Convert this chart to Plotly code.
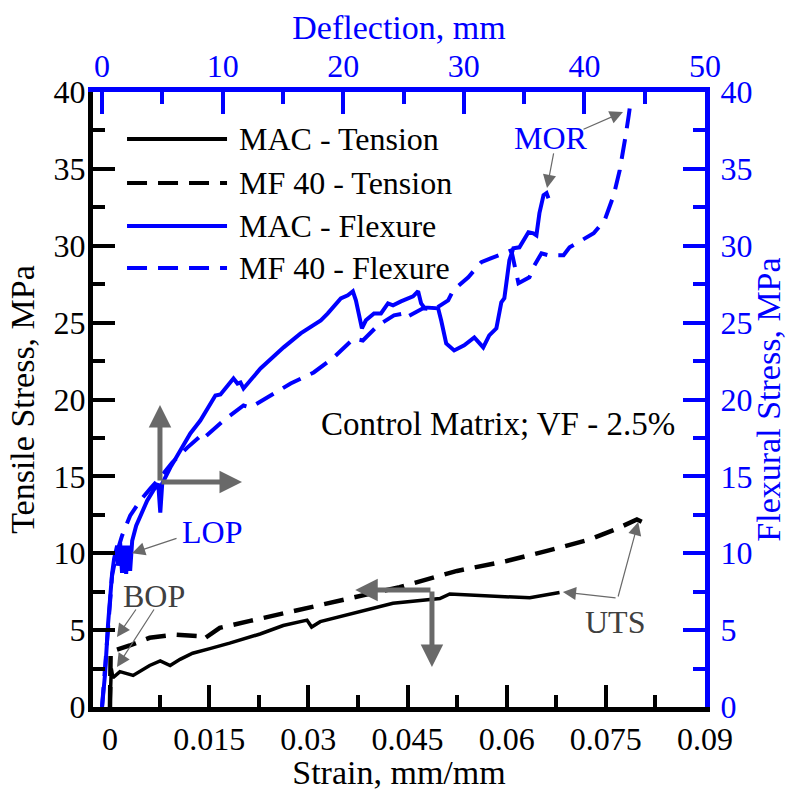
import plotly.graph_objects as go

# ---------------- data ----------------
mac_t_strain = [0, 0.0002, 0.00045, 0.0015, 0.0035, 0.006, 0.0076, 0.0091, 0.0106, 0.0125,
                0.0151, 0.0181, 0.0227, 0.0262, 0.0298, 0.0305, 0.0318, 0.0363, 0.0428,
                0.0499, 0.0514, 0.0635, 0.068]
mac_t_stress = [0, 2.5, 1.9, 2.3, 2.05, 2.7, 3.0, 2.7, 3.1, 3.5,
                3.8, 4.15, 4.75, 5.3, 5.65, 5.2, 5.55, 6.05, 6.75,
                7.05, 7.35, 7.1, 7.45]

mf_t_strain = [0, 0.0001, 0.003, 0.006, 0.0098, 0.0136, 0.0141, 0.0166, 0.0212, 0.0257,
               0.0302, 0.0363, 0.0438, 0.0525, 0.060, 0.0661, 0.0726, 0.0767, 0.0797, 0.0812]
mf_t_stress = [0, 3.6, 4.0, 4.5, 4.7, 4.6, 4.4, 5.15, 5.6, 6.05,
               6.45, 7.1, 7.8, 8.85, 9.5, 10.15, 10.9, 11.6, 12.2, 11.9]

mac_f_defl = [0, 0.25, 0.5, 0.67, 0.83, 1.0, 1.25, 1.33, 1.5, 1.66, 1.83, 2.0, 2.16, 2.33,
              2.5, 2.83, 3.16, 3.74, 4.24, 4.66, 4.83, 4.99, 5.66, 6.49, 7.32, 8.15, 9.4,
              9.82, 10.9, 11.23, 11.48, 11.73, 13.14, 15.06, 16.47, 18.14, 18.72, 19.8,
              20.38, 20.8, 21.05, 21.55, 21.88, 22.55, 23.13, 23.71, 24.13, 24.79, 25.79,
              26.21, 26.46, 26.71, 27.87, 28.12, 28.54, 29.2, 30.03, 30.87, 31.61, 32.11,
              32.7, 33.11, 33.36, 33.78, 34.11, 34.61, 35.36, 35.77, 36.02, 36.27, 36.61,
              36.86, 37.02]
mac_f_stress = [0, 2.15, 5.41, 7.56, 8.66, 9.64, 10.49, 9.19, 10.68, 8.73, 10.49, 8.66, 10.49,
                8.86, 10.81, 11.79, 12.44, 13.42, 14.07, 14.53, 12.64, 14.53, 15.57, 16.68,
                17.79, 18.63, 20.26, 20.33, 21.37, 21.04, 21.11, 20.72, 22.02, 23.39, 24.3,
                25.15, 25.6, 26.58, 26.78, 27.04, 26.45, 24.63, 25.15, 25.6, 25.6, 26.25,
                26.12, 26.38, 26.71, 27.04, 26.25, 25.99, 25.93, 25.15, 23.65, 23.19, 23.52,
                24.04, 23.39, 24.17, 24.63, 26.32, 26.58, 29.06, 29.84, 29.9, 30.88, 30.81,
                30.68, 32.12, 33.29, 33.42, 33.09]

mf_f_defl = [0, 0.5, 0.83, 1.16, 1.66, 2.33, 3.16, 4.0, 4.83, 5.82, 7.07, 8.4, 8.57, 10.07,
             11.73, 12.31, 13.73, 15.64, 17.55, 19.22, 20.88, 21.63, 22.88, 24.21, 25.04,
             25.21, 26.62, 27.54, 28.7, 29.12, 30.37, 31.45, 32.28, 33.94, 34.53, 35.44,
             35.86, 36.44, 37.02, 38.27, 38.77, 40.03, 40.77, 41.68, 42.43, 42.93, 43.26,
             43.43, 43.68, 43.76]
mf_f_stress = [0, 5.6, 8.53, 9.84, 11.14, 12.44, 13.42, 14.2, 14.92, 15.9, 16.87, 17.79,
               17.59, 18.63, 19.61, 19.48, 20.13, 21.04, 21.76, 22.74, 23.97, 23.84, 24.82,
               25.47, 25.6, 25.34, 25.93, 25.86, 26.45, 27.1, 27.95, 28.93, 29.19, 29.7,
               27.56, 27.95, 28.73, 29.51, 29.38, 29.38, 29.9, 30.49, 30.81, 31.66, 33.29,
               34.92, 36.22, 37.2, 38.5, 38.96]

strain_ticks = [0, 0.015, 0.03, 0.045, 0.06, 0.075, 0.09]
strain_labels = ["0", "0.015", "0.03", "0.045", "0.06", "0.075", "0.09"]
defl_ticks = [0, 10, 20, 30, 40, 50]
stress_ticks = [0, 5, 10, 15, 20, 25, 30, 35, 40]

series_names = ["MAC - Tension", "MF 40 - Tension", "MAC - Flexure", "MF 40 - Flexure"]

# ---------------- styling ----------------
FONT = "Liberation Serif"
BLUE = "rgb(0,0,255)"
BLACK = "rgb(0,0,0)"
GREY = "rgb(105,105,105)"
DARKGREY = "rgb(64,64,64)"
DASH = "20px,11px"
LW = 4
TICK_FS = 32
TITLE_FS = 34
TEXT_FS = 32

fig = go.Figure()
fig.add_trace(go.Scatter(x=mac_t_strain, y=mac_t_stress, mode="lines", name=series_names[0],
                         line=dict(color=BLACK, width=3.5), xaxis="x", yaxis="y", showlegend=False))
fig.add_trace(go.Scatter(x=mf_t_strain, y=mf_t_stress, mode="lines", name=series_names[1],
                         line=dict(color=BLACK, width=4.5, dash=DASH), xaxis="x", yaxis="y",
                         showlegend=False))
fig.add_trace(go.Scatter(x=mac_f_defl, y=mac_f_stress, mode="lines", name=series_names[2],
                         line=dict(color=BLUE, width=LW), xaxis="x2", yaxis="y2", showlegend=False))
fig.add_trace(go.Scatter(x=mf_f_defl, y=mf_f_stress, mode="lines", name=series_names[3],
                         line=dict(color=BLUE, width=LW, dash=DASH), xaxis="x2", yaxis="y2",
                         showlegend=False))

tick_common = dict(ticks="inside", ticklen=22, tickwidth=4, showgrid=False, zeroline=False,
                   showline=True, linewidth=5, automargin=False)

fig.update_layout(
    width=787, height=791,
    margin=dict(l=93, r=82, t=92, b=84, autoexpand=False),
    paper_bgcolor="white", plot_bgcolor="white",
    font=dict(family=FONT, size=TICK_FS, color=BLACK),
    xaxis=dict(range=[-0.00257, 0.09], tickmode="array", tickvals=strain_ticks,
               ticktext=strain_labels, linecolor=BLACK, tickcolor=BLACK,
               tickfont=dict(family=FONT, size=TICK_FS, color=BLACK),
               minor=dict(ticks="inside", ticklen=12, tickwidth=4, dtick=0.0075, tick0=0,
                          tickcolor=BLACK),
               title=dict(text="Strain, mm/mm", font=dict(family=FONT, size=TITLE_FS, color=BLACK),
                          standoff=2),
               anchor="y", side="bottom", **tick_common),
    xaxis2=dict(range=[-0.75, 50], tickmode="array", tickvals=defl_ticks,
                linecolor=BLUE, tickcolor=BLUE,
                tickfont=dict(family=FONT, size=TICK_FS, color=BLUE), ticklabelstandoff=-3,
                minor=dict(ticks="inside", ticklen=12, tickwidth=4, dtick=5, tick0=0,
                           tickcolor=BLUE),
                title=dict(text="Deflection, mm", font=dict(family=FONT, size=TITLE_FS, color=BLUE),
                           standoff=0),
                overlaying="x", side="top", anchor="y2", **tick_common),
    yaxis=dict(range=[0, 40], tickmode="array", tickvals=stress_ticks,
               linecolor=BLACK, tickcolor=BLACK,
               tickfont=dict(family=FONT, size=TICK_FS, color=BLACK), ticklabelstandoff=-4,
               minor=dict(ticks="inside", ticklen=12, tickwidth=4, dtick=2.5, tick0=0,
                          tickcolor=BLACK),
               title=dict(text="Tensile Stress, MPa",
                          font=dict(family=FONT, size=TITLE_FS, color=BLACK), standoff=10),
               anchor="x", side="left", **tick_common),
    yaxis2=dict(range=[0, 40], tickmode="array", tickvals=stress_ticks,
                linecolor=BLUE, tickcolor=BLUE,
                tickfont=dict(family=FONT, size=TICK_FS, color=BLUE), ticklabelstandoff=4,
                minor=dict(ticks="inside", ticklen=12, tickwidth=4, dtick=2.5, tick0=0,
                           tickcolor=BLUE),
                title=dict(text="Flexural Stress, MPa",
                           font=dict(family=FONT, size=TITLE_FS, color=BLUE), standoff=14),
                overlaying="y", side="right", anchor="x2", **tick_common),
)

# ---------------- custom legend (long line samples) ----------------
leg_rows = [0.9236, 0.852, 0.782, 0.714]
leg_styles = [(BLACK, None), (BLACK, "dash"), (BLUE, None), (BLUE, "dash")]
for name, yy, (col, dsh) in zip(series_names, leg_rows, leg_styles):
    fig.add_shape(type="line", xref="paper", yref="paper", x0=0.0556, x1=0.219, y0=yy, y1=yy,
                  line=dict(color=col, width=LW, dash=DASH if dsh else "solid"))
    fig.add_annotation(xref="paper", yref="paper", x=0.2353, y=yy, text=name, showarrow=False,
                       xanchor="left", yanchor="middle",
                       font=dict(family=FONT, size=TEXT_FS, color=BLACK))

# ---------------- text annotations ----------------
fig.add_annotation(xref="x", yref="y", x=0.0858, y=18.4, text="Control Matrix; VF - 2.5%",
                   showarrow=False, xanchor="right", yanchor="middle",
                   font=dict(family=FONT, size=33, color=BLACK))
fig.add_annotation(xref="x2", yref="y2", x=37.2, y=37.0, text="MOR", showarrow=False,
                   font=dict(family=FONT, size=TEXT_FS, color=BLUE))
fig.add_annotation(xref="x2", yref="y2", x=9.12, y=11.38, text="LOP", showarrow=False,
                   font=dict(family=FONT, size=TEXT_FS, color=BLUE))
fig.add_annotation(xref="x", yref="y", x=0.00666, y=7.22, text="BOP", showarrow=False,
                   font=dict(family=FONT, size=TEXT_FS, color=DARKGREY))
fig.add_annotation(xref="x", yref="y", x=0.0764, y=5.53, text="UTS", showarrow=False,
                   font=dict(family=FONT, size=TEXT_FS, color=DARKGREY))

# thin pointer arrows: (ref axes, tail, tip)
thin_arrows = [
    ("x2", "y2", (37.47, 36.1), (36.9, 33.76)),
    ("x2", "y2", (39.8, 37.53), (43.2, 38.7)),
    ("x2", "y2", (6.3, 11.0), (2.48, 10.0)),
    ("x", "y", (0.00408, 6.44), (0.00106, 4.55)),
    ("x", "y", (0.0068, 6.44), (0.00106, 2.6)),
    ("x", "y", (0.0767, 7.09), (0.0685, 7.48)),
    ("x", "y", (0.0768, 7.09), (0.0799, 12.03)),
]
for xr, yr, tail, tip in thin_arrows:
    fig.add_annotation(xref=xr, yref=yr, axref=xr, ayref=yr, x=tip[0], y=tip[1],
                       ax=tail[0], ay=tail[1], text="", showarrow=True, arrowhead=2,
                       arrowsize=2.2, arrowwidth=1.2, arrowcolor=GREY)

# thick axis-indicator arrows
thick_arrows = [
    ((0.00756, 14.63), (0.00756, 19.64)),
    ((0.00756, 14.63), (0.01997, 14.63)),
    ((0.0487, 7.61), (0.0371, 7.61)),
    ((0.0487, 7.61), (0.0487, 2.6)),
]
for tail, tip in thick_arrows:
    fig.add_annotation(xref="x", yref="y", axref="x", ayref="y", x=tip[0], y=tip[1],
                       ax=tail[0], ay=tail[1], text="", showarrow=True, arrowhead=2,
                       arrowsize=0.9, arrowwidth=5, arrowcolor=GREY)

fig.write_html("out.html")
